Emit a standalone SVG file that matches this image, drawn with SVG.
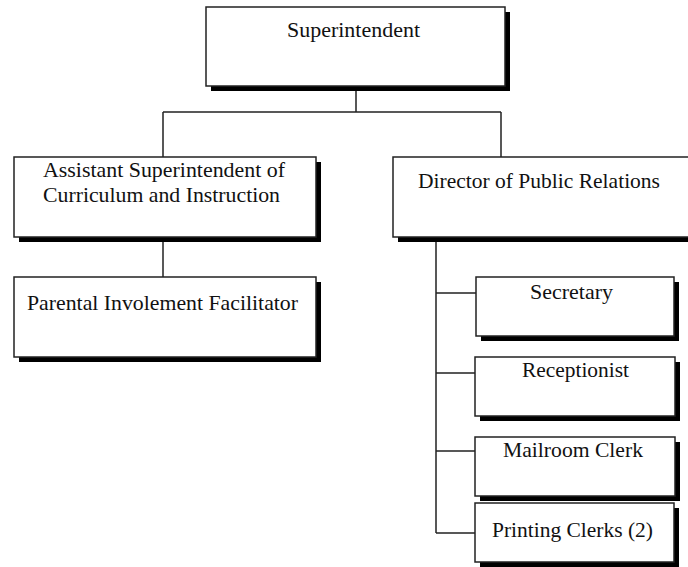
<svg xmlns="http://www.w3.org/2000/svg" width="688" height="567" viewBox="0 0 688 567">
  <style>
    .box { fill: #ffffff; stroke: #222222; stroke-width: 1.5; }
    .shadow { fill: #000000; }
    .wire { fill: none; stroke: #222222; stroke-width: 1.5; }
    text { font-family: "Liberation Serif", "Times New Roman", serif; font-size: 21px; fill: #111111; }
  </style>
  <rect width="688" height="567" fill="#ffffff"/>

  <g id="connectors">
    <path class="wire" d="M356 91 V112 M163 112 H501 M163 112 V157 M501 112 V157"/>
    <path class="wire" d="M163 242 V277"/>
    <path class="wire" d="M436 242 V533 M436 293 H476 M436 373 H475 M436 451 H475 M436 533 H475"/>
  </g>

  <g id="superintendent">
    <rect class="shadow" x="211" y="12" width="299" height="79"/>
    <rect class="box" x="206" y="7" width="299" height="79"/>
    <text x="287" y="37" textLength="133" lengthAdjust="spacingAndGlyphs">Superintendent</text>
  </g>

  <g id="assistant-superintendent">
    <rect class="shadow" x="19" y="162" width="302" height="80"/>
    <rect class="box" x="14" y="157" width="302" height="80"/>
    <text x="43" y="177" textLength="242" lengthAdjust="spacingAndGlyphs">Assistant Superintendent of</text>
    <text x="43" y="202" textLength="237" lengthAdjust="spacingAndGlyphs">Curriculum and Instruction</text>
  </g>

  <g id="parental-involvement">
    <rect class="shadow" x="19" y="282" width="302" height="80"/>
    <rect class="box" x="14" y="277" width="302" height="80"/>
    <text x="27" y="310" textLength="271" lengthAdjust="spacingAndGlyphs">Parental Involement Facilitator</text>
  </g>

  <g id="public-relations">
    <rect class="shadow" x="398" y="162" width="300" height="80"/>
    <rect class="box" x="393" y="157" width="300" height="80"/>
    <text x="418" y="188" textLength="242" lengthAdjust="spacingAndGlyphs">Director of Public Relations</text>
  </g>

  <g id="secretary">
    <rect class="shadow" x="481" y="282" width="198" height="59"/>
    <rect class="box" x="476" y="277" width="198" height="59"/>
    <text x="530" y="299" textLength="83" lengthAdjust="spacingAndGlyphs">Secretary</text>
  </g>

  <g id="receptionist">
    <rect class="shadow" x="480" y="362" width="200" height="59"/>
    <rect class="box" x="475" y="357" width="200" height="59"/>
    <text x="522" y="377" textLength="107" lengthAdjust="spacingAndGlyphs">Receptionist</text>
  </g>

  <g id="mailroom-clerk">
    <rect class="shadow" x="480" y="442" width="200" height="59"/>
    <rect class="box" x="475" y="437" width="200" height="59"/>
    <text x="503" y="457" textLength="140" lengthAdjust="spacingAndGlyphs">Mailroom Clerk</text>
  </g>

  <g id="printing-clerks">
    <rect class="shadow" x="480" y="508" width="199" height="59"/>
    <rect class="box" x="475" y="503" width="199" height="59"/>
    <text x="492" y="537" textLength="161" lengthAdjust="spacingAndGlyphs">Printing Clerks (2)</text>
  </g>
</svg>
